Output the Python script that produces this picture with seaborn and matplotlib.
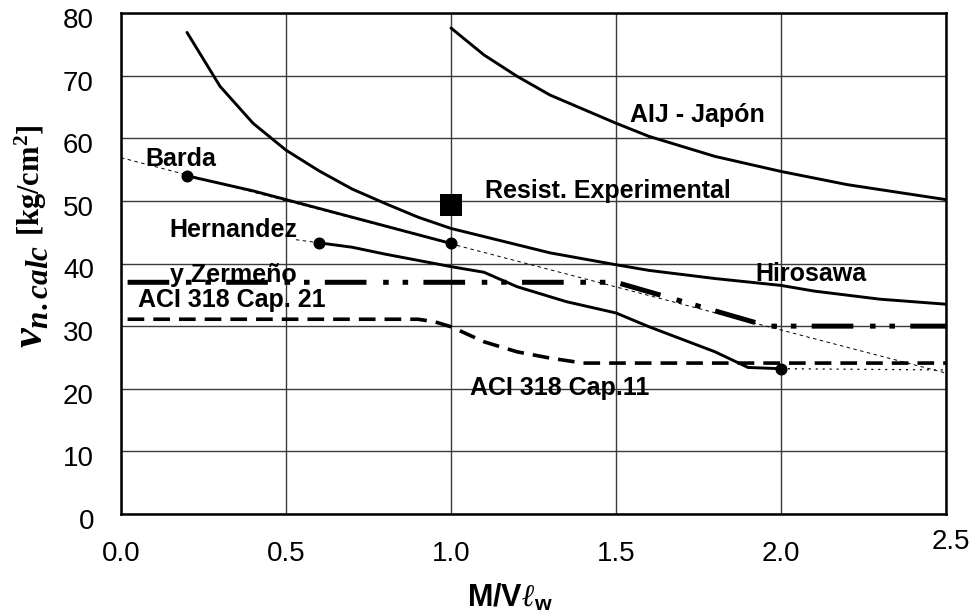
import matplotlib
matplotlib.use("Agg")
import matplotlib.pyplot as plt
import matplotlib.transforms as mtransforms
import seaborn as sns
import pandas as pd

# ---------------- data ----------------
hiro_x = [0.2, 0.3, 0.4, 0.5, 0.6, 0.7, 0.8, 0.9, 1.0, 1.1, 1.2, 1.3, 1.5, 1.6, 1.8, 2.0, 2.1, 2.3, 2.5]
hiro_y = [76.9, 68.3, 62.4, 58.1, 54.8, 51.9, 49.6, 47.4, 45.6, 44.3, 43.0, 41.7, 39.8, 38.9, 37.6, 36.5, 35.6, 34.3, 33.5]

aij_x = [1.0, 1.1, 1.2, 1.3, 1.5, 1.6, 1.8, 2.0, 2.2, 2.5]
aij_y = [77.6, 73.3, 69.9, 66.9, 62.4, 60.3, 57.1, 54.7, 52.6, 50.2]

barda_x = [0.2, 0.3, 0.4, 0.5, 0.6, 0.7, 0.8, 0.9, 1.0]
barda_y = [54.0, 52.8, 51.6, 50.2, 48.8, 47.4, 46.0, 44.6, 43.2]
barda_ext_x = [0.0, 2.5]
barda_ext_y = [56.9, 22.5]

hz_x = [0.6, 0.7, 0.8, 0.9, 1.0, 1.1, 1.2, 1.35, 1.5, 1.6, 1.8, 1.9, 2.0]
hz_y = [43.3, 42.6, 41.5, 40.5, 39.5, 38.6, 36.3, 33.9, 32.1, 29.9, 25.9, 23.4, 23.2]
hz_ext_x = [2.0, 2.5]
hz_ext_y = [23.2, 23.0]
hz_left_x = [0.53, 0.6]
hz_left_y = [43.8, 43.3]

aci21_x = [0.02, 1.5, 1.96, 2.5]
aci21_y = [37.0, 37.0, 30.0, 30.0]

aci11_x = [0.02, 0.9, 0.95, 1.0, 1.1, 1.2, 1.3, 1.4, 2.5]
aci11_y = [31.1, 31.1, 30.7, 29.9, 27.5, 25.9, 24.9, 24.1, 24.1]

dots_x = [0.2, 1.0, 0.6, 2.0]
dots_y = [54.0, 43.2, 43.3, 23.2]

exp_x = [1.0]
exp_y = [49.3]

x_ticks = [0.0, 0.5, 1.0, 1.5, 2.0, 2.5]
y_ticks = [0, 10, 20, 30, 40, 50, 60, 70, 80]

labels = [
    ("AIJ - Japón", 1.542, 63.7),
    ("Resist. Experimental", 1.103, 51.5),
    ("Hirosawa", 1.921, 38.4),
    ("Barda", 0.073, 56.7),
    ("Hernandez", 0.148, 45.4),
    ("y Zermeño", 0.15, 38.2),
    ("ACI 318 Cap. 21", 0.053, 34.2),
    ("ACI 318 Cap.11", 1.058, 20.1),
]

# ---------------- style ----------------
sns.set_style("white")
plt.rcParams["font.family"] = ["Liberation Sans", "DejaVu Sans"]
plt.rcParams["lines.scale_dashes"] = False
plt.rcParams["mathtext.fontset"] = "custom"
plt.rcParams["mathtext.rm"] = "Liberation Serif:bold"
plt.rcParams["mathtext.it"] = "Liberation Serif:italic:bold"
plt.rcParams["mathtext.bf"] = "Liberation Serif:bold"
plt.rcParams["mathtext.sf"] = "Liberation Sans:bold"

fig = plt.figure(figsize=(9.74, 6.13), dpi=100)
ax = fig.add_axes([121 / 974, 1 - 514 / 613, (946 - 121) / 974, (514 - 13) / 613])

K = "black"

def line(x, y, lw, ls="-", z=3):
    sns.lineplot(x=x, y=y, ax=ax, color=K, lw=lw, linestyle=ls, sort=False,
                 estimator=None, zorder=z, legend=False)

# thin dotted extensions
thin = (0, (2.5, 2.5))
line(barda_ext_x, barda_ext_y, 0.7, thin, 2)
line(hz_ext_x, hz_ext_y, 0.9, (0, (1.5, 3.5)), 2)
line(hz_left_x, hz_left_y, 0.7, thin, 2)

# main curves
line(hiro_x, hiro_y, 2.1)
line(aij_x, aij_y, 2.1)
line(barda_x, barda_y, 2.1)
line(hz_x, hz_y, 2.1)
line(aci21_x, aci21_y, 3.6, (0, (30, 12, 4, 10, 4, 11)))
line(aci11_x, aci11_y, 2.6, (0, (12, 6.5)))

sns.scatterplot(x=dots_x, y=dots_y, ax=ax, color=K, s=75, marker="o",
                edgecolor=K, linewidth=0, zorder=5, legend=False)
sns.scatterplot(x=exp_x, y=exp_y, ax=ax, color=K, s=250, marker="s",
                edgecolor=K, linewidth=0, zorder=5, legend=False)

for txt, x, y in labels:
    ax.text(x, y, txt, fontsize=18, fontweight="bold", ha="left", va="center",
            color=K, zorder=6)

# axes
ax.set_xlim(0, 2.5)
ax.set_ylim(0, 80)
ax.set_xticks(x_ticks)
ax.set_xticklabels([f"{v:.1f}" for v in x_ticks])
ax.set_yticks(y_ticks)
ax.set_yticklabels([str(v) for v in y_ticks])
ax.grid(True, color="#3a3a3a", lw=1.0)
ax.set_axisbelow(True)
for s in ax.spines.values():
    s.set_color(K)
    s.set_linewidth(1.8)
ax.tick_params(axis="both", direction="out", length=4.5, width=1.2, color=K,
               labelsize=20, labelcolor=K)
ax.tick_params(axis="y", pad=15)
ax.tick_params(axis="x", pad=15)
ax.set_xlabel("")
ax.set_ylabel("")

# small offsets of tick labels as in reference
for lab in ax.get_yticklabels():
    lab.set_transform(lab.get_transform() +
                      mtransforms.ScaledTranslation(0, -5 / 100, fig.dpi_scale_trans))
last = ax.get_xticklabels()[-1]
last.set_transform(last.get_transform() +
                   mtransforms.ScaledTranslation(5 / 100, 12 / 100, fig.dpi_scale_trans))

# axis titles
fig.text(510 / 974, 1 - 598 / 613, r"$\mathsf{M/V}\ell_{\mathsf{w}}$", fontsize=22,
         ha="center", va="center", color=K)
fig.text(31 / 974, 1 - 296 / 613, r"$v_{n.calc}$", fontsize=32, rotation=90,
         ha="center", va="center", color=K)
fig.text(31 / 974, 1 - 180 / 613, r"[kg/cm$^2$]", fontsize=22, rotation=90,
         ha="center", va="center", color=K, family="Liberation Serif",
         fontweight="bold")

fig.savefig("out.png", dpi=100)
